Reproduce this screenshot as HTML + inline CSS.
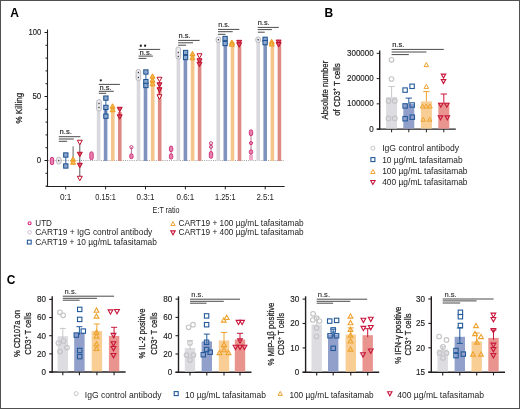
<!DOCTYPE html>
<html><head><meta charset="utf-8"><style>
html,body{margin:0;padding:0;background:#fff;}
#f{position:relative;width:520px;height:409px;box-sizing:border-box;border:1px solid #505050;overflow:hidden;}
svg{position:absolute;left:-1px;top:-1px;will-change:transform;}
text{font-family:"Liberation Sans", sans-serif;}
</style></head><body>
<div id="f"><svg width="520" height="409" viewBox="0 0 520 409">
<text x="10.2" y="16.8" font-size="12" text-anchor="start" fill="#000" font-weight="bold">A</text>
<line x1="47.5" y1="29.5" x2="47.5" y2="187" stroke="#231f20" stroke-width="1.1"/>
<line x1="46.3" y1="186.5" x2="284.6" y2="186.5" stroke="#231f20" stroke-width="1.1"/>
<line x1="45.5" y1="186.1" x2="47.5" y2="186.1" stroke="#231f20" stroke-width="1"/>
<line x1="45.5" y1="173.3" x2="47.5" y2="173.3" stroke="#231f20" stroke-width="1"/>
<line x1="44.5" y1="160.5" x2="47.5" y2="160.5" stroke="#231f20" stroke-width="1"/>
<line x1="45.5" y1="147.7" x2="47.5" y2="147.7" stroke="#231f20" stroke-width="1"/>
<line x1="45.5" y1="134.9" x2="47.5" y2="134.9" stroke="#231f20" stroke-width="1"/>
<line x1="45.5" y1="122.1" x2="47.5" y2="122.1" stroke="#231f20" stroke-width="1"/>
<line x1="45.5" y1="109.3" x2="47.5" y2="109.3" stroke="#231f20" stroke-width="1"/>
<line x1="44.5" y1="96.5" x2="47.5" y2="96.5" stroke="#231f20" stroke-width="1"/>
<line x1="45.5" y1="83.7" x2="47.5" y2="83.7" stroke="#231f20" stroke-width="1"/>
<line x1="45.5" y1="70.89999999999999" x2="47.5" y2="70.89999999999999" stroke="#231f20" stroke-width="1"/>
<line x1="45.5" y1="58.099999999999994" x2="47.5" y2="58.099999999999994" stroke="#231f20" stroke-width="1"/>
<line x1="45.5" y1="45.3" x2="47.5" y2="45.3" stroke="#231f20" stroke-width="1"/>
<line x1="44.5" y1="32.5" x2="47.5" y2="32.5" stroke="#231f20" stroke-width="1"/>
<text x="41.2" y="35.1" font-size="9.2" text-anchor="end" fill="#1c1c1c" font-weight="normal" textLength="12.7" lengthAdjust="spacingAndGlyphs" stroke="#1c1c1c" stroke-width="0.15">100</text>
<text x="41.2" y="99.1" font-size="9.2" text-anchor="end" fill="#1c1c1c" font-weight="normal" textLength="8.8" lengthAdjust="spacingAndGlyphs" stroke="#1c1c1c" stroke-width="0.15">50</text>
<text x="41.2" y="163.1" font-size="9.2" text-anchor="end" fill="#1c1c1c" font-weight="normal" textLength="4.4" lengthAdjust="spacingAndGlyphs" stroke="#1c1c1c" stroke-width="0.15">0</text>
<text x="21.7" y="108.2" font-size="9.4" text-anchor="middle" fill="#1c1c1c" font-weight="normal" textLength="30.8" lengthAdjust="spacingAndGlyphs" transform="rotate(-90 21.7 108.2)" stroke="#1c1c1c" stroke-width="0.25">% Killing</text>
<line x1="48.0" y1="160.5" x2="284" y2="160.5" stroke="#8a8a8a" stroke-width="0.8" stroke-dasharray="1,1.2"/>
<line x1="65.7" y1="186.5" x2="65.7" y2="189.4" stroke="#231f20" stroke-width="1"/>
<text x="65.7" y="199.8" font-size="8.6" text-anchor="middle" fill="#1c1c1c" font-weight="normal" textLength="11.5" lengthAdjust="spacingAndGlyphs">0:1</text>
<line x1="105.6" y1="186.5" x2="105.6" y2="189.4" stroke="#231f20" stroke-width="1"/>
<text x="105.6" y="199.8" font-size="8.6" text-anchor="middle" fill="#1c1c1c" font-weight="normal" textLength="20.5" lengthAdjust="spacingAndGlyphs">0.15:1</text>
<line x1="145.5" y1="186.5" x2="145.5" y2="189.4" stroke="#231f20" stroke-width="1"/>
<text x="145.5" y="199.8" font-size="8.6" text-anchor="middle" fill="#1c1c1c" font-weight="normal" textLength="17.9" lengthAdjust="spacingAndGlyphs">0.3:1</text>
<line x1="185.39999999999998" y1="186.5" x2="185.39999999999998" y2="189.4" stroke="#231f20" stroke-width="1"/>
<text x="185.39999999999998" y="199.8" font-size="8.6" text-anchor="middle" fill="#1c1c1c" font-weight="normal" textLength="17.9" lengthAdjust="spacingAndGlyphs">0.6:1</text>
<line x1="225.3" y1="186.5" x2="225.3" y2="189.4" stroke="#231f20" stroke-width="1"/>
<text x="225.3" y="199.8" font-size="8.6" text-anchor="middle" fill="#1c1c1c" font-weight="normal" textLength="20.5" lengthAdjust="spacingAndGlyphs">1.25:1</text>
<line x1="265.2" y1="186.5" x2="265.2" y2="189.4" stroke="#231f20" stroke-width="1"/>
<text x="265.2" y="199.8" font-size="8.6" text-anchor="middle" fill="#1c1c1c" font-weight="normal" textLength="17.5" lengthAdjust="spacingAndGlyphs">2.5:1</text>
<text x="166.1" y="213" font-size="9.0" text-anchor="middle" fill="#1c1c1c" font-weight="normal" textLength="27" lengthAdjust="spacingAndGlyphs">E:T ratio</text>
<rect x="96.8" y="104.69200000000001" width="3.6" height="56.30799999999999" fill="#d8d8dd"/>
<rect x="103.8" y="106.74000000000001" width="3.6" height="54.25999999999999" fill="#8092be"/>
<rect x="111.0" y="108.02" width="3.6" height="52.980000000000004" fill="#f4c68c"/>
<rect x="118.0" y="111.86" width="3.6" height="49.14" fill="#de8a84"/>
<rect x="136.7" y="74.74" width="3.6" height="86.26" fill="#d8d8dd"/>
<rect x="143.7" y="79.86" width="3.6" height="81.14" fill="#8092be"/>
<rect x="150.89999999999998" y="79.348" width="3.6" height="81.652" fill="#f4c68c"/>
<rect x="157.89999999999998" y="87.53999999999999" width="3.6" height="73.46000000000001" fill="#de8a84"/>
<rect x="176.59999999999997" y="52.980000000000004" width="3.6" height="108.02" fill="#d8d8dd"/>
<rect x="183.59999999999997" y="54.89999999999999" width="3.6" height="106.10000000000001" fill="#8092be"/>
<rect x="190.79999999999995" y="55.53999999999999" width="3.6" height="105.46000000000001" fill="#f4c68c"/>
<rect x="197.79999999999995" y="59.89200000000001" width="3.6" height="101.10799999999999" fill="#de8a84"/>
<rect x="216.5" y="40.17999999999999" width="3.6" height="120.82000000000001" fill="#d8d8dd"/>
<rect x="223.5" y="40.94799999999999" width="3.6" height="120.052" fill="#8092be"/>
<rect x="230.7" y="41.97200000000001" width="3.6" height="119.02799999999999" fill="#f4c68c"/>
<rect x="237.7" y="42.995999999999995" width="3.6" height="118.004" fill="#de8a84"/>
<rect x="256.4" y="40.17999999999999" width="3.6" height="120.82000000000001" fill="#d8d8dd"/>
<rect x="263.4" y="39.156000000000006" width="3.6" height="121.844" fill="#8092be"/>
<rect x="270.59999999999997" y="41.97200000000001" width="3.6" height="119.02799999999999" fill="#f4c68c"/>
<rect x="277.59999999999997" y="41.97200000000001" width="3.6" height="119.02799999999999" fill="#de8a84"/>
<rect x="50.3" y="157.3" width="3.4" height="7.4" rx="1.7" fill="#e880ae" stroke="#cc2a74" stroke-width="0.9"/>
<rect x="89.8" y="151.8" width="3.4" height="7.9" rx="1.7" fill="#e880ae" stroke="#cc2a74" stroke-width="0.9"/>
<line x1="131.4" y1="147.2" x2="131.4" y2="156" stroke="#a05070" stroke-width="0.8"/>
<circle cx="131.4" cy="147.2" r="1.6" stroke="#cc2a74" fill="none" stroke-width="0.9"/>
<rect x="129.70000000000002" y="153.8" width="3.4" height="4.9" rx="1.7" fill="#e880ae" stroke="#cc2a74" stroke-width="0.9"/>
<line x1="171.1" y1="148" x2="171.1" y2="157" stroke="#a05070" stroke-width="0.8"/>
<rect x="169.4" y="146.10000000000002" width="3.4" height="5.599999999999989" rx="1.7" fill="#e880ae" stroke="#cc2a74" stroke-width="0.9"/>
<rect x="169.4" y="153.8" width="3.4" height="5.300000000000006" rx="1.7" fill="#e880ae" stroke="#cc2a74" stroke-width="0.9"/>
<line x1="211" y1="143.3" x2="211" y2="157" stroke="#a05070" stroke-width="0.8"/>
<circle cx="211" cy="143.3" r="1.6" stroke="#cc2a74" fill="none" stroke-width="0.9"/>
<circle cx="211" cy="146.8" r="1.6" stroke="#cc2a74" fill="none" stroke-width="0.9"/>
<rect x="209.3" y="151.5" width="3.4" height="6.800000000000006" rx="1.7" fill="#e880ae" stroke="#cc2a74" stroke-width="0.9"/>
<line x1="251" y1="132" x2="251" y2="157" stroke="#a05070" stroke-width="0.8"/>
<rect x="249.3" y="129.8" width="3.4" height="5.9" rx="1.7" fill="#e880ae" stroke="#cc2a74" stroke-width="0.9"/>
<circle cx="251" cy="143.1" r="1.6" stroke="#cc2a74" fill="#e880ae" stroke-width="0.9"/>
<rect x="249.3" y="149.8" width="3.4" height="4.4" rx="1.7" fill="#e880ae" stroke="#cc2a74" stroke-width="0.9"/>
<rect x="249" y="155" width="4" height="5" fill="#f0a8c8"/>
<rect x="56.5" y="157.20000000000002" width="4.6" height="6.899999999999989" rx="2.2" stroke="#b4b4bc" fill="#ececf0" stroke-width="0.9"/>
<rect x="58.199999999999996" y="159.9" width="1.2" height="1.4" fill="#333"/>
<rect x="96.7" y="99.60000000000001" width="4.6" height="11.499999999999996" rx="2.2" stroke="#b4b4bc" fill="#ececf0" stroke-width="0.9"/>
<rect x="98.4" y="102.8" width="1.2" height="1.4" fill="#333"/>
<rect x="98.4" y="106.8" width="1.2" height="1.4" fill="#333"/>
<rect x="136.1" y="69.4" width="4.6" height="11.2" rx="2.2" stroke="#b4b4bc" fill="#ececf0" stroke-width="0.9"/>
<rect x="137.8" y="71.8" width="1.2" height="1.4" fill="#333"/>
<rect x="137.8" y="76.8" width="1.2" height="1.4" fill="#333"/>
<rect x="176.0" y="46.9" width="4.6" height="12.2" rx="2.2" stroke="#b4b4bc" fill="#ececf0" stroke-width="0.9"/>
<rect x="177.70000000000002" y="51.8" width="1.2" height="1.4" fill="#333"/>
<rect x="177.70000000000002" y="55.8" width="1.2" height="1.4" fill="#333"/>
<rect x="216.1" y="36.9" width="4.6" height="5.7" rx="2.2" stroke="#b4b4bc" fill="#ececf0" stroke-width="0.9"/>
<rect x="217.8" y="39.0" width="1.2" height="1.4" fill="#333"/>
<rect x="255.8" y="36.9" width="4.6" height="5.7" rx="2.2" stroke="#b4b4bc" fill="#ececf0" stroke-width="0.9"/>
<rect x="257.5" y="39.0" width="1.2" height="1.4" fill="#333"/>
<line x1="65.8" y1="155" x2="65.8" y2="166" stroke="#23599b" stroke-width="0.9"/>
<rect x="63.65" y="152.85" width="4.3" height="4.3" stroke="#1d4f8c" fill="#8aa9d2" stroke-width="1.0"/>
<rect x="63.65" y="163.85" width="4.3" height="4.3" stroke="#1d4f8c" fill="#8aa9d2" stroke-width="1.0"/>
<line x1="105.9" y1="98.1" x2="105.9" y2="116.2" stroke="#23599b" stroke-width="0.9"/>
<rect x="103.75" y="95.94999999999999" width="4.3" height="4.3" stroke="#1d4f8c" fill="#8aa9d2" stroke-width="1.0"/>
<rect x="103.75" y="105.25" width="4.3" height="4.3" stroke="#1d4f8c" fill="#8aa9d2" stroke-width="1.0"/>
<rect x="103.75" y="114.05" width="4.3" height="4.3" stroke="#1d4f8c" fill="#8aa9d2" stroke-width="1.0"/>
<line x1="145.9" y1="72" x2="145.9" y2="85.5" stroke="#23599b" stroke-width="0.9"/>
<rect x="143.75" y="69.85" width="4.3" height="4.3" stroke="#1d4f8c" fill="#8aa9d2" stroke-width="1.0"/>
<rect x="143.75" y="79.44999999999999" width="4.3" height="4.3" stroke="#1d4f8c" fill="#8aa9d2" stroke-width="1.0"/>
<rect x="143.75" y="83.35" width="4.3" height="4.3" stroke="#1d4f8c" fill="#8aa9d2" stroke-width="1.0"/>
<line x1="185.6" y1="52.5" x2="185.6" y2="57.5" stroke="#23599b" stroke-width="0.9"/>
<rect x="183.45" y="50.35" width="4.3" height="4.3" stroke="#1d4f8c" fill="#8aa9d2" stroke-width="1.0"/>
<rect x="183.45" y="55.35" width="4.3" height="4.3" stroke="#1d4f8c" fill="#8aa9d2" stroke-width="1.0"/>
<line x1="225.1" y1="38.5" x2="225.1" y2="43.5" stroke="#23599b" stroke-width="0.9"/>
<rect x="222.95" y="36.35" width="4.3" height="4.3" stroke="#1d4f8c" fill="#8aa9d2" stroke-width="1.0"/>
<rect x="222.95" y="41.35" width="4.3" height="4.3" stroke="#1d4f8c" fill="#8aa9d2" stroke-width="1.0"/>
<line x1="265.1" y1="39.3" x2="265.1" y2="42.6" stroke="#23599b" stroke-width="0.9"/>
<rect x="262.95000000000005" y="37.15" width="4.3" height="4.3" stroke="#1d4f8c" fill="#8aa9d2" stroke-width="1.0"/>
<rect x="262.95000000000005" y="40.45" width="4.3" height="4.3" stroke="#1d4f8c" fill="#8aa9d2" stroke-width="1.0"/>
<line x1="73.1" y1="146.3" x2="73.1" y2="163" stroke="#555" stroke-width="0.9"/>
<polygon points="70.6,161.25 75.6,161.25 73.1,156.75" stroke="#ec9a20" fill="#f5b850" stroke-width="1.0" stroke-linejoin="miter"/>
<polygon points="70.6,164.25 75.6,164.25 73.1,159.75" stroke="#ec9a20" fill="#f5b850" stroke-width="1.0" stroke-linejoin="miter"/>
<line x1="112.6" y1="106" x2="112.6" y2="109.5" stroke="#eea22e" stroke-width="0.9"/>
<polygon points="110.1,108.25 115.1,108.25 112.6,103.75" stroke="#ec9a20" fill="#f5b850" stroke-width="1.0" stroke-linejoin="miter"/>
<polygon points="110.1,111.75 115.1,111.75 112.6,107.25" stroke="#ec9a20" fill="#f5b850" stroke-width="1.0" stroke-linejoin="miter"/>
<line x1="152.5" y1="76" x2="152.5" y2="83.5" stroke="#eea22e" stroke-width="0.9"/>
<polygon points="150.0,78.25 155.0,78.25 152.5,73.75" stroke="#ec9a20" fill="#f5b850" stroke-width="1.0" stroke-linejoin="miter"/>
<polygon points="150.0,82.25 155.0,82.25 152.5,77.75" stroke="#ec9a20" fill="#f5b850" stroke-width="1.0" stroke-linejoin="miter"/>
<polygon points="150.0,85.75 155.0,85.75 152.5,81.25" stroke="#ec9a20" fill="#f5b850" stroke-width="1.0" stroke-linejoin="miter"/>
<line x1="192.5" y1="53.5" x2="192.5" y2="57.5" stroke="#eea22e" stroke-width="0.9"/>
<polygon points="190.0,55.75 195.0,55.75 192.5,51.25" stroke="#ec9a20" fill="#f5b850" stroke-width="1.0" stroke-linejoin="miter"/>
<polygon points="190.0,59.75 195.0,59.75 192.5,55.25" stroke="#ec9a20" fill="#f5b850" stroke-width="1.0" stroke-linejoin="miter"/>
<line x1="231.9" y1="42.2" x2="231.9" y2="44" stroke="#eea22e" stroke-width="0.9"/>
<polygon points="229.4,44.45 234.4,44.45 231.9,39.95" stroke="#ec9a20" fill="#f5b850" stroke-width="1.0" stroke-linejoin="miter"/>
<polygon points="229.4,46.25 234.4,46.25 231.9,41.75" stroke="#ec9a20" fill="#f5b850" stroke-width="1.0" stroke-linejoin="miter"/>
<line x1="271.7" y1="41.5" x2="271.7" y2="43.8" stroke="#eea22e" stroke-width="0.9"/>
<polygon points="269.2,43.75 274.2,43.75 271.7,39.25" stroke="#ec9a20" fill="#f5b850" stroke-width="1.0" stroke-linejoin="miter"/>
<polygon points="269.2,46.05 274.2,46.05 271.7,41.55" stroke="#ec9a20" fill="#f5b850" stroke-width="1.0" stroke-linejoin="miter"/>
<line x1="79.8" y1="142" x2="79.8" y2="179" stroke="#444" stroke-width="0.9"/>
<polygon points="77.3,140.25 82.3,140.25 79.8,144.75" stroke="#c0102f" fill="#fff" stroke-width="1.0" stroke-linejoin="miter"/>
<polygon points="77.3,152.25 82.3,152.25 79.8,156.75" stroke="#c0102f" fill="#d44a64" stroke-width="1.0" stroke-linejoin="miter"/>
<polygon points="77.3,163.25 82.3,163.25 79.8,167.75" stroke="#c0102f" fill="#d44a64" stroke-width="1.0" stroke-linejoin="miter"/>
<polygon points="77.3,176.25 82.3,176.25 79.8,180.75" stroke="#c0102f" fill="#fff" stroke-width="1.0" stroke-linejoin="miter"/>
<line x1="119.7" y1="109.5" x2="119.7" y2="117" stroke="#c8163c" stroke-width="0.9"/>
<polygon points="117.2,107.25 122.2,107.25 119.7,111.75" stroke="#c0102f" fill="#d44a64" stroke-width="1.0" stroke-linejoin="miter"/>
<polygon points="117.2,114.75 122.2,114.75 119.7,119.25" stroke="#c0102f" fill="#d44a64" stroke-width="1.0" stroke-linejoin="miter"/>
<line x1="159.5" y1="79.5" x2="159.5" y2="97" stroke="#c8163c" stroke-width="0.9"/>
<polygon points="157.0,77.25 162.0,77.25 159.5,81.75" stroke="#c0102f" fill="#fff" stroke-width="1.0" stroke-linejoin="miter"/>
<polygon points="157.0,82.75 162.0,82.75 159.5,87.25" stroke="#c0102f" fill="#d44a64" stroke-width="1.0" stroke-linejoin="miter"/>
<polygon points="157.0,87.75 162.0,87.75 159.5,92.25" stroke="#c0102f" fill="#d44a64" stroke-width="1.0" stroke-linejoin="miter"/>
<polygon points="157.0,94.75 162.0,94.75 159.5,99.25" stroke="#c0102f" fill="#fff" stroke-width="1.0" stroke-linejoin="miter"/>
<line x1="199.5" y1="56" x2="199.5" y2="64.5" stroke="#c8163c" stroke-width="0.9"/>
<polygon points="197.0,53.75 202.0,53.75 199.5,58.25" stroke="#c0102f" fill="#fff" stroke-width="1.0" stroke-linejoin="miter"/>
<polygon points="197.0,58.75 202.0,58.75 199.5,63.25" stroke="#c0102f" fill="#d44a64" stroke-width="1.0" stroke-linejoin="miter"/>
<polygon points="197.0,62.25 202.0,62.25 199.5,66.75" stroke="#c0102f" fill="#d44a64" stroke-width="1.0" stroke-linejoin="miter"/>
<line x1="239.2" y1="42.6" x2="239.2" y2="45" stroke="#c8163c" stroke-width="0.9"/>
<polygon points="236.7,40.35 241.7,40.35 239.2,44.85" stroke="#c0102f" fill="#d44a64" stroke-width="1.0" stroke-linejoin="miter"/>
<polygon points="236.7,42.75 241.7,42.75 239.2,47.25" stroke="#c0102f" fill="#d44a64" stroke-width="1.0" stroke-linejoin="miter"/>
<line x1="278.6" y1="42.3" x2="278.6" y2="44.8" stroke="#c8163c" stroke-width="0.9"/>
<polygon points="276.1,40.05 281.1,40.05 278.6,44.55" stroke="#c0102f" fill="#d44a64" stroke-width="1.0" stroke-linejoin="miter"/>
<polygon points="276.1,42.55 281.1,42.55 278.6,47.05" stroke="#c0102f" fill="#d44a64" stroke-width="1.0" stroke-linejoin="miter"/>
<text x="59.6" y="133.9" font-size="8.0" text-anchor="start" fill="#222" font-weight="normal" textLength="12.3" lengthAdjust="spacingAndGlyphs" stroke="#222" stroke-width="0.15">n.s.</text>
<line x1="58.8" y1="136.7" x2="80.4" y2="136.7" stroke="#4a4a4a" stroke-width="1.0"/>
<line x1="58.8" y1="139" x2="73.8" y2="139" stroke="#4a4a4a" stroke-width="1.0"/>
<line x1="58.8" y1="141.3" x2="67.1" y2="141.3" stroke="#4a4a4a" stroke-width="1.0"/>
<circle cx="100.8" cy="80.3" r="1.15" fill="#222"/>
<line x1="98.8" y1="84.4" x2="119.9" y2="84.4" stroke="#4a4a4a" stroke-width="1.0"/>
<text x="99.6" y="89.8" font-size="8.0" text-anchor="start" fill="#222" font-weight="normal" textLength="12.1" lengthAdjust="spacingAndGlyphs" stroke="#222" stroke-width="0.15">n.s.</text>
<line x1="98.8" y1="91.3" x2="113.8" y2="91.3" stroke="#4a4a4a" stroke-width="1.0"/>
<line x1="98.8" y1="93.3" x2="106.2" y2="93.3" stroke="#4a4a4a" stroke-width="1.0"/>
<circle cx="140.8" cy="45.75" r="1.15" fill="#222"/>
<circle cx="145.1" cy="45.75" r="1.15" fill="#222"/>
<line x1="138.6" y1="49.4" x2="160.2" y2="49.4" stroke="#4a4a4a" stroke-width="1.0"/>
<text x="139.6" y="54.7" font-size="8.0" text-anchor="start" fill="#222" font-weight="normal" textLength="12.3" lengthAdjust="spacingAndGlyphs" stroke="#222" stroke-width="0.15">n.s.</text>
<line x1="138.6" y1="56.1" x2="152.9" y2="56.1" stroke="#4a4a4a" stroke-width="1.0"/>
<line x1="138.6" y1="58.4" x2="146.4" y2="58.4" stroke="#4a4a4a" stroke-width="1.0"/>
<text x="178.6" y="38.3" font-size="8.0" text-anchor="start" fill="#222" font-weight="normal" textLength="12.1" lengthAdjust="spacingAndGlyphs" stroke="#222" stroke-width="0.15">n.s.</text>
<line x1="178.2" y1="40.4" x2="199.6" y2="40.4" stroke="#4a4a4a" stroke-width="1.0"/>
<line x1="178.2" y1="42.8" x2="193" y2="42.8" stroke="#4a4a4a" stroke-width="1.0"/>
<line x1="178.2" y1="45.2" x2="186" y2="45.2" stroke="#4a4a4a" stroke-width="1.0"/>
<text x="218.3" y="27.2" font-size="8.0" text-anchor="start" fill="#222" font-weight="normal" textLength="11.3" lengthAdjust="spacingAndGlyphs" stroke="#222" stroke-width="0.15">n.s.</text>
<line x1="218" y1="29.4" x2="239.3" y2="29.4" stroke="#4a4a4a" stroke-width="1.0"/>
<line x1="218" y1="31.7" x2="232.7" y2="31.7" stroke="#4a4a4a" stroke-width="1.0"/>
<line x1="218" y1="34.3" x2="225.5" y2="34.3" stroke="#4a4a4a" stroke-width="1.0"/>
<text x="257.8" y="25.2" font-size="8.0" text-anchor="start" fill="#222" font-weight="normal" textLength="11.8" lengthAdjust="spacingAndGlyphs" stroke="#222" stroke-width="0.15">n.s.</text>
<line x1="257.8" y1="27.4" x2="278.8" y2="27.4" stroke="#4a4a4a" stroke-width="1.0"/>
<line x1="257.8" y1="29.6" x2="271.9" y2="29.6" stroke="#4a4a4a" stroke-width="1.0"/>
<line x1="257.8" y1="32.2" x2="264.7" y2="32.2" stroke="#4a4a4a" stroke-width="1.0"/>
<circle cx="29.6" cy="223.2" r="1.5" stroke="#d4237a" fill="none" stroke-width="1.1"/>
<text x="35.3" y="225.6" font-size="8.6" text-anchor="start" fill="#1e1e1e" font-weight="normal" textLength="16.6" lengthAdjust="spacingAndGlyphs">UTD</text>
<circle cx="29.6" cy="232.3" r="1.8" stroke="#c9b9cc" fill="none" stroke-width="0.9"/>
<text x="35.3" y="234.7" font-size="8.6" text-anchor="start" fill="#1e1e1e" font-weight="normal" textLength="117.0" lengthAdjust="spacingAndGlyphs">CART19 + IgG control antibody</text>
<rect x="27.400000000000002" y="240.2" width="3.8" height="3.8" stroke="#23599b" fill="none" stroke-width="1.1"/>
<text x="35.3" y="244.6" font-size="8.6" text-anchor="start" fill="#1e1e1e" font-weight="normal" textLength="121.6" lengthAdjust="spacingAndGlyphs">CART19 + 10 µg/mL tafasitamab</text>
<polygon points="170.8,225.57999999999998 175.2,225.57999999999998 173,221.62" stroke="#eea22e" fill="none" stroke-width="1.0" stroke-linejoin="miter"/>
<text x="178.5" y="225.6" font-size="8.6" text-anchor="start" fill="#1e1e1e" font-weight="normal" textLength="125.2" lengthAdjust="spacingAndGlyphs">CART19 + 100 µg/mL tafasitamab</text>
<polygon points="170.8,230.92000000000002 175.2,230.92000000000002 173,234.88" stroke="#c8163c" fill="none" stroke-width="1.1" stroke-linejoin="miter"/>
<text x="178.5" y="234.6" font-size="8.6" text-anchor="start" fill="#1e1e1e" font-weight="normal" textLength="125.2" lengthAdjust="spacingAndGlyphs">CART19 + 400 µg/mL tafasitamab</text>
<text x="324.6" y="16.7" font-size="12" text-anchor="start" fill="#000" font-weight="bold">B</text>
<line x1="379.7" y1="50.4" x2="379.7" y2="129.8" stroke="#231f20" stroke-width="1.4"/>
<line x1="376.8" y1="129.1" x2="455.8" y2="129.1" stroke="#231f20" stroke-width="1.4"/>
<line x1="376.7" y1="53.349999999999994" x2="379.7" y2="53.349999999999994" stroke="#231f20" stroke-width="1"/>
<text x="373.7" y="55.949999999999996" font-size="8.5" text-anchor="end" fill="#1c1c1c" font-weight="normal" textLength="26.700000000000003" lengthAdjust="spacingAndGlyphs" stroke="#1c1c1c" stroke-width="0.15">300000</text>
<line x1="376.7" y1="78.6" x2="379.7" y2="78.6" stroke="#231f20" stroke-width="1"/>
<text x="373.7" y="81.19999999999999" font-size="8.5" text-anchor="end" fill="#1c1c1c" font-weight="normal" textLength="26.700000000000003" lengthAdjust="spacingAndGlyphs" stroke="#1c1c1c" stroke-width="0.15">200000</text>
<line x1="376.7" y1="103.85" x2="379.7" y2="103.85" stroke="#231f20" stroke-width="1"/>
<text x="373.7" y="106.44999999999999" font-size="8.5" text-anchor="end" fill="#1c1c1c" font-weight="normal" textLength="26.700000000000003" lengthAdjust="spacingAndGlyphs" stroke="#1c1c1c" stroke-width="0.15">100000</text>
<line x1="376.7" y1="129.1" x2="379.7" y2="129.1" stroke="#231f20" stroke-width="1"/>
<text x="373.7" y="131.7" font-size="8.5" text-anchor="end" fill="#1c1c1c" font-weight="normal" textLength="4.45" lengthAdjust="spacingAndGlyphs" stroke="#1c1c1c" stroke-width="0.15">0</text>
<text x="328.5" y="90.1" font-size="9.3" text-anchor="middle" fill="#1c1c1c" font-weight="normal" textLength="58.7" lengthAdjust="spacingAndGlyphs" transform="rotate(-90 328.5 90.1)" stroke="#1c1c1c" stroke-width="0.25">Absolute number</text>
<text x="339.5" y="89.5" font-size="9.3" text-anchor="middle" fill="#1c1c1c" font-weight="normal" textLength="52.6" lengthAdjust="spacingAndGlyphs" transform="rotate(-90 339.5 89.5)" stroke="#1c1c1c" stroke-width="0.25">of CD3<tspan font-size="6" dy="-3.4">+</tspan><tspan dy="3.4"> T cells</tspan></text>
<rect x="386.1" y="97.0" width="11" height="31.599999999999994" fill="#dcdce1"/>
<line x1="391.6" y1="86.5" x2="391.6" y2="97.0" stroke="#c8c8ca" stroke-width="1"/>
<line x1="388.40000000000003" y1="86.5" x2="394.8" y2="86.5" stroke="#c8c8ca" stroke-width="1"/>
<rect x="403.3" y="104.0" width="11" height="24.599999999999994" fill="#90a0ca"/>
<line x1="408.8" y1="98.1" x2="408.8" y2="104.0" stroke="#23599b" stroke-width="1"/>
<line x1="405.6" y1="98.1" x2="412.0" y2="98.1" stroke="#23599b" stroke-width="1"/>
<rect x="420.9" y="101.4" width="11" height="27.19999999999999" fill="#f8ce94"/>
<line x1="426.4" y1="91.6" x2="426.4" y2="101.4" stroke="#eea22e" stroke-width="1"/>
<line x1="423.2" y1="91.6" x2="429.59999999999997" y2="91.6" stroke="#eea22e" stroke-width="1"/>
<rect x="438.3" y="102.7" width="11" height="25.89999999999999" fill="#e9948e"/>
<line x1="443.8" y1="94.0" x2="443.8" y2="102.7" stroke="#c8163c" stroke-width="1"/>
<line x1="440.6" y1="94.0" x2="447.0" y2="94.0" stroke="#c8163c" stroke-width="1"/>
<line x1="391.6" y1="129.1" x2="391.6" y2="132.3" stroke="#231f20" stroke-width="1"/>
<line x1="408.8" y1="129.1" x2="408.8" y2="132.3" stroke="#231f20" stroke-width="1"/>
<line x1="426.4" y1="129.1" x2="426.4" y2="132.3" stroke="#231f20" stroke-width="1"/>
<line x1="443.8" y1="129.1" x2="443.8" y2="132.3" stroke="#231f20" stroke-width="1"/>
<circle cx="391.5" cy="59.8" r="2.3" stroke="#c4c4c6" fill="none" stroke-width="1.1"/>
<circle cx="391.5" cy="79" r="2.3" stroke="#c4c4c6" fill="none" stroke-width="1.1"/>
<circle cx="388.5" cy="100.9" r="2.3" stroke="#c4c4c6" fill="none" stroke-width="1.1"/>
<circle cx="394.8" cy="100.9" r="2.3" stroke="#c4c4c6" fill="none" stroke-width="1.1"/>
<circle cx="388.5" cy="118.4" r="2.3" stroke="#c4c4c6" fill="none" stroke-width="1.1"/>
<circle cx="394.8" cy="118.4" r="2.3" stroke="#c4c4c6" fill="none" stroke-width="1.1"/>
<rect x="402.90000000000003" y="87.89999999999999" width="4.4" height="4.4" stroke="#23599b" fill="none" stroke-width="1.1"/>
<rect x="409.90000000000003" y="84.1" width="4.4" height="4.4" stroke="#23599b" fill="none" stroke-width="1.1"/>
<rect x="402.90000000000003" y="103.7" width="4.4" height="4.4" stroke="#23599b" fill="none" stroke-width="1.1"/>
<rect x="410.0" y="102.8" width="4.4" height="4.4" stroke="#23599b" fill="none" stroke-width="1.1"/>
<rect x="402.90000000000003" y="116.5" width="4.4" height="4.4" stroke="#23599b" fill="none" stroke-width="1.1"/>
<rect x="410.1" y="115.0" width="4.4" height="4.4" stroke="#23599b" fill="none" stroke-width="1.1"/>
<polygon points="424.05,66.625 428.55,66.625 426.3,62.574999999999996" stroke="#eea22e" fill="none" stroke-width="1.0" stroke-linejoin="miter"/>
<polygon points="424.05,88.42500000000001 428.55,88.42500000000001 426.3,84.375" stroke="#eea22e" fill="none" stroke-width="1.0" stroke-linejoin="miter"/>
<polygon points="420.25,108.025 424.75,108.025 422.5,103.975" stroke="#eea22e" fill="none" stroke-width="1.0" stroke-linejoin="miter"/>
<polygon points="424.05,108.025 428.55,108.025 426.3,103.975" stroke="#eea22e" fill="none" stroke-width="1.0" stroke-linejoin="miter"/>
<polygon points="427.75,108.025 432.25,108.025 430,103.975" stroke="#eea22e" fill="none" stroke-width="1.0" stroke-linejoin="miter"/>
<polygon points="420.95,121.22500000000001 425.45,121.22500000000001 423.2,117.175" stroke="#eea22e" fill="none" stroke-width="1.0" stroke-linejoin="miter"/>
<polygon points="427.45,121.22500000000001 431.95,121.22500000000001 429.7,117.175" stroke="#eea22e" fill="none" stroke-width="1.0" stroke-linejoin="miter"/>
<polygon points="441.25,74.07499999999999 445.75,74.07499999999999 443.5,78.125" stroke="#c8163c" fill="none" stroke-width="1.1" stroke-linejoin="miter"/>
<polygon points="441.25,79.57499999999999 445.75,79.57499999999999 443.5,83.625" stroke="#c8163c" fill="none" stroke-width="1.1" stroke-linejoin="miter"/>
<polygon points="438.55,103.175 443.05,103.175 440.8,107.22500000000001" stroke="#c8163c" fill="none" stroke-width="1.1" stroke-linejoin="miter"/>
<polygon points="444.55,103.175 449.05,103.175 446.8,107.22500000000001" stroke="#c8163c" fill="none" stroke-width="1.1" stroke-linejoin="miter"/>
<polygon points="438.25,115.875 442.75,115.875 440.5,119.92500000000001" stroke="#c8163c" fill="none" stroke-width="1.1" stroke-linejoin="miter"/>
<polygon points="445.05,115.875 449.55,115.875 447.3,119.92500000000001" stroke="#c8163c" fill="none" stroke-width="1.1" stroke-linejoin="miter"/>
<text x="392.2" y="47.3" font-size="7.9" text-anchor="start" fill="#222" font-weight="normal" textLength="12.1" lengthAdjust="spacingAndGlyphs" stroke="#222" stroke-width="0.15">n.s.</text>
<line x1="391.6" y1="49.4" x2="443.8" y2="49.4" stroke="#4a4a4a" stroke-width="1.0"/>
<line x1="391.6" y1="52.0" x2="426.4" y2="52.0" stroke="#4a4a4a" stroke-width="1.0"/>
<line x1="391.6" y1="54.6" x2="408.8" y2="54.6" stroke="#4a4a4a" stroke-width="1.0"/>
<circle cx="372.9" cy="148.2" r="2.0" stroke="#c4c4c6" fill="none" stroke-width="1.0"/>
<text x="382.2" y="151.0" font-size="8.6" text-anchor="start" fill="#1e1e1e" font-weight="normal" textLength="76.8" lengthAdjust="spacingAndGlyphs">IgG control antibody</text>
<rect x="370.9" y="157.6" width="4.0" height="4.0" stroke="#23599b" fill="none" stroke-width="1.1"/>
<text x="382.2" y="162.6" font-size="8.6" text-anchor="start" fill="#1e1e1e" font-weight="normal" textLength="80.4" lengthAdjust="spacingAndGlyphs">10 µg/mL tafasitamab</text>
<polygon points="370.7,173.48 375.09999999999997,173.48 372.9,169.52" stroke="#eea22e" fill="none" stroke-width="1.0" stroke-linejoin="miter"/>
<text x="382.2" y="174.2" font-size="8.6" text-anchor="start" fill="#1e1e1e" font-weight="normal" textLength="85.3" lengthAdjust="spacingAndGlyphs">100 µg/mL tafasitamab</text>
<polygon points="370.7,180.52 375.09999999999997,180.52 372.9,184.48" stroke="#c8163c" fill="none" stroke-width="1.1" stroke-linejoin="miter"/>
<text x="382.2" y="185.3" font-size="8.6" text-anchor="start" fill="#1e1e1e" font-weight="normal" textLength="85.3" lengthAdjust="spacingAndGlyphs">400 µg/mL tafasitamab</text>
<text x="6.8" y="283.8" font-size="12" text-anchor="start" fill="#000" font-weight="bold">C</text>
<line x1="52.2" y1="296.3" x2="52.2" y2="372.7" stroke="#231f20" stroke-width="1.4"/>
<line x1="49.2" y1="372.0" x2="125.6" y2="372.0" stroke="#231f20" stroke-width="1.4"/>
<line x1="49.2" y1="372.0" x2="52.2" y2="372.0" stroke="#231f20" stroke-width="1.1"/>
<text x="45.900000000000006" y="374.8" font-size="8.6" text-anchor="end" fill="#1c1c1c" font-weight="normal" textLength="4.5" lengthAdjust="spacingAndGlyphs" stroke="#1c1c1c" stroke-width="0.15">0</text>
<line x1="49.2" y1="353.85" x2="52.2" y2="353.85" stroke="#231f20" stroke-width="1.1"/>
<text x="45.900000000000006" y="356.65000000000003" font-size="8.6" text-anchor="end" fill="#1c1c1c" font-weight="normal" textLength="9.0" lengthAdjust="spacingAndGlyphs" stroke="#1c1c1c" stroke-width="0.15">20</text>
<line x1="49.2" y1="335.7" x2="52.2" y2="335.7" stroke="#231f20" stroke-width="1.1"/>
<text x="45.900000000000006" y="338.5" font-size="8.6" text-anchor="end" fill="#1c1c1c" font-weight="normal" textLength="9.0" lengthAdjust="spacingAndGlyphs" stroke="#1c1c1c" stroke-width="0.15">40</text>
<line x1="49.2" y1="317.55" x2="52.2" y2="317.55" stroke="#231f20" stroke-width="1.1"/>
<text x="45.900000000000006" y="320.35" font-size="8.6" text-anchor="end" fill="#1c1c1c" font-weight="normal" textLength="9.0" lengthAdjust="spacingAndGlyphs" stroke="#1c1c1c" stroke-width="0.15">60</text>
<line x1="49.2" y1="299.4" x2="52.2" y2="299.4" stroke="#231f20" stroke-width="1.1"/>
<text x="45.900000000000006" y="302.2" font-size="8.6" text-anchor="end" fill="#1c1c1c" font-weight="normal" textLength="9.0" lengthAdjust="spacingAndGlyphs" stroke="#1c1c1c" stroke-width="0.15">80</text>
<rect x="57.599999999999994" y="336.2" width="10.4" height="35.10000000000002" fill="#dcdce1"/>
<line x1="62.8" y1="328.4" x2="62.8" y2="338.2" stroke="#c8c8ca" stroke-width="1"/>
<line x1="59.8" y1="328.4" x2="65.8" y2="328.4" stroke="#c8c8ca" stroke-width="1"/>
<rect x="74.2" y="332.8" width="10.4" height="38.5" fill="#90a0ca"/>
<line x1="79.4" y1="326.7" x2="79.4" y2="334.8" stroke="#23599b" stroke-width="1"/>
<line x1="76.4" y1="326.7" x2="82.4" y2="326.7" stroke="#23599b" stroke-width="1"/>
<rect x="91.7" y="331" width="10.4" height="40.30000000000001" fill="#f8ce94"/>
<line x1="96.9" y1="324" x2="96.9" y2="333" stroke="#eea22e" stroke-width="1"/>
<line x1="93.9" y1="324" x2="99.9" y2="324" stroke="#eea22e" stroke-width="1"/>
<rect x="108.89999999999999" y="336" width="10.4" height="35.30000000000001" fill="#e9948e"/>
<line x1="114.1" y1="327.3" x2="114.1" y2="338" stroke="#c8163c" stroke-width="1"/>
<line x1="111.1" y1="327.3" x2="117.1" y2="327.3" stroke="#c8163c" stroke-width="1"/>
<line x1="62.8" y1="372.0" x2="62.8" y2="375.2" stroke="#231f20" stroke-width="1.1"/>
<line x1="79.4" y1="372.0" x2="79.4" y2="375.2" stroke="#231f20" stroke-width="1.1"/>
<line x1="96.9" y1="372.0" x2="96.9" y2="375.2" stroke="#231f20" stroke-width="1.1"/>
<line x1="114.1" y1="372.0" x2="114.1" y2="375.2" stroke="#231f20" stroke-width="1.1"/>
<circle cx="59.9" cy="312.3" r="2.3" stroke="#c4c4c6" fill="none" stroke-width="1.1"/>
<circle cx="63.1" cy="315.3" r="2.3" stroke="#c4c4c6" fill="none" stroke-width="1.1"/>
<circle cx="58.4" cy="343" r="2.3" stroke="#c4c4c6" fill="none" stroke-width="1.1"/>
<circle cx="63.5" cy="341" r="2.3" stroke="#c4c4c6" fill="none" stroke-width="1.1"/>
<circle cx="67" cy="347.5" r="2.3" stroke="#c4c4c6" fill="none" stroke-width="1.1"/>
<circle cx="60" cy="351.6" r="2.3" stroke="#c4c4c6" fill="none" stroke-width="1.1"/>
<rect x="77.5" y="307.2" width="4.4" height="4.4" stroke="#23599b" fill="none" stroke-width="1.1"/>
<rect x="77.5" y="317.2" width="4.4" height="4.4" stroke="#23599b" fill="none" stroke-width="1.1"/>
<rect x="81.1" y="328.90000000000003" width="4.4" height="4.4" stroke="#23599b" fill="none" stroke-width="1.1"/>
<rect x="74.1" y="332.90000000000003" width="4.4" height="4.4" stroke="#23599b" fill="none" stroke-width="1.1"/>
<rect x="77.5" y="348.3" width="4.4" height="4.4" stroke="#23599b" fill="none" stroke-width="1.1"/>
<rect x="77.5" y="354.40000000000003" width="4.4" height="4.4" stroke="#23599b" fill="none" stroke-width="1.1"/>
<polygon points="94.1,312.26000000000005 98.9,312.26000000000005 96.5,307.94" stroke="#eea22e" fill="none" stroke-width="1.1" stroke-linejoin="miter"/>
<polygon points="94.1,318.16 98.9,318.16 96.5,313.84" stroke="#eea22e" fill="none" stroke-width="1.1" stroke-linejoin="miter"/>
<polygon points="94.1,334.26000000000005 98.9,334.26000000000005 96.5,329.94" stroke="#eea22e" fill="none" stroke-width="1.1" stroke-linejoin="miter"/>
<polygon points="94.1,338.16 98.9,338.16 96.5,333.84" stroke="#eea22e" fill="none" stroke-width="1.1" stroke-linejoin="miter"/>
<polygon points="94.1,346.06 98.9,346.06 96.5,341.73999999999995" stroke="#eea22e" fill="none" stroke-width="1.1" stroke-linejoin="miter"/>
<polygon points="94.1,350.46000000000004 98.9,350.46000000000004 96.5,346.14" stroke="#eea22e" fill="none" stroke-width="1.1" stroke-linejoin="miter"/>
<polygon points="108.1,309.84 112.9,309.84 110.5,314.16" stroke="#c8163c" fill="none" stroke-width="1.1" stroke-linejoin="miter"/>
<polygon points="114.6,309.44 119.4,309.44 117,313.76000000000005" stroke="#c8163c" fill="none" stroke-width="1.1" stroke-linejoin="miter"/>
<polygon points="111.1,333.34 115.9,333.34 113.5,337.66" stroke="#c8163c" fill="none" stroke-width="1.1" stroke-linejoin="miter"/>
<polygon points="111.1,341.73999999999995 115.9,341.73999999999995 113.5,346.06" stroke="#c8163c" fill="none" stroke-width="1.1" stroke-linejoin="miter"/>
<polygon points="111.1,346.53999999999996 115.9,346.53999999999996 113.5,350.86" stroke="#c8163c" fill="none" stroke-width="1.1" stroke-linejoin="miter"/>
<polygon points="111.1,353.44 115.9,353.44 113.5,357.76000000000005" stroke="#c8163c" fill="none" stroke-width="1.1" stroke-linejoin="miter"/>
<text x="20.2" y="333.6" font-size="9.3" text-anchor="middle" fill="#1c1c1c" font-weight="normal" textLength="47" lengthAdjust="spacingAndGlyphs" transform="rotate(-90 20.2 333.6)" stroke="#1c1c1c" stroke-width="0.25">% CD107a on</text>
<text x="31.4" y="333.6" font-size="9.3" text-anchor="middle" fill="#1c1c1c" font-weight="normal" textLength="42.2" lengthAdjust="spacingAndGlyphs" transform="rotate(-90 31.4 333.6)" stroke="#1c1c1c" stroke-width="0.25">CD3<tspan font-size="6" dy="-3.4">+</tspan><tspan dy="3.4"> T cells</tspan></text>
<text x="64.6" y="293.8" font-size="7.8" text-anchor="start" fill="#2a2a2a" font-weight="normal" textLength="12.2" lengthAdjust="spacingAndGlyphs" stroke="#2a2a2a" stroke-width="0.12">n.s.</text>
<line x1="62.8" y1="296.2" x2="114.1" y2="296.2" stroke="#4a4a4a" stroke-width="1.0"/>
<line x1="62.8" y1="298.3" x2="96.9" y2="298.3" stroke="#4a4a4a" stroke-width="1.0"/>
<line x1="62.8" y1="300.2" x2="79.6" y2="300.2" stroke="#4a4a4a" stroke-width="1.0"/>
<line x1="178.5" y1="296.3" x2="178.5" y2="373.0" stroke="#231f20" stroke-width="1.4"/>
<line x1="175.5" y1="372.3" x2="251.5" y2="372.3" stroke="#231f20" stroke-width="1.4"/>
<line x1="175.5" y1="372.3" x2="178.5" y2="372.3" stroke="#231f20" stroke-width="1.1"/>
<text x="172.2" y="375.1" font-size="8.6" text-anchor="end" fill="#1c1c1c" font-weight="normal" textLength="4.5" lengthAdjust="spacingAndGlyphs" stroke="#1c1c1c" stroke-width="0.15">0</text>
<line x1="175.5" y1="354.0" x2="178.5" y2="354.0" stroke="#231f20" stroke-width="1.1"/>
<text x="172.2" y="356.8" font-size="8.6" text-anchor="end" fill="#1c1c1c" font-weight="normal" textLength="9.0" lengthAdjust="spacingAndGlyphs" stroke="#1c1c1c" stroke-width="0.15">20</text>
<line x1="175.5" y1="335.7" x2="178.5" y2="335.7" stroke="#231f20" stroke-width="1.1"/>
<text x="172.2" y="338.5" font-size="8.6" text-anchor="end" fill="#1c1c1c" font-weight="normal" textLength="9.0" lengthAdjust="spacingAndGlyphs" stroke="#1c1c1c" stroke-width="0.15">40</text>
<line x1="175.5" y1="317.40000000000003" x2="178.5" y2="317.40000000000003" stroke="#231f20" stroke-width="1.1"/>
<text x="172.2" y="320.20000000000005" font-size="8.6" text-anchor="end" fill="#1c1c1c" font-weight="normal" textLength="9.0" lengthAdjust="spacingAndGlyphs" stroke="#1c1c1c" stroke-width="0.15">60</text>
<line x1="175.5" y1="299.1" x2="178.5" y2="299.1" stroke="#231f20" stroke-width="1.1"/>
<text x="172.2" y="301.90000000000003" font-size="8.6" text-anchor="end" fill="#1c1c1c" font-weight="normal" textLength="9.0" lengthAdjust="spacingAndGlyphs" stroke="#1c1c1c" stroke-width="0.15">80</text>
<rect x="184.8" y="348" width="10.4" height="23.600000000000023" fill="#dcdce1"/>
<line x1="190" y1="340.5" x2="190" y2="350" stroke="#c8c8ca" stroke-width="1"/>
<line x1="187" y1="340.5" x2="193" y2="340.5" stroke="#c8c8ca" stroke-width="1"/>
<rect x="201.60000000000002" y="341.4" width="10.4" height="30.200000000000045" fill="#90a0ca"/>
<line x1="206.8" y1="334.1" x2="206.8" y2="343.4" stroke="#23599b" stroke-width="1"/>
<line x1="203.8" y1="334.1" x2="209.8" y2="334.1" stroke="#23599b" stroke-width="1"/>
<rect x="218.8" y="340.5" width="10.4" height="31.100000000000023" fill="#f8ce94"/>
<line x1="224" y1="332.5" x2="224" y2="342.5" stroke="#eea22e" stroke-width="1"/>
<line x1="221" y1="332.5" x2="227" y2="332.5" stroke="#eea22e" stroke-width="1"/>
<rect x="234.8" y="339.5" width="10.4" height="32.10000000000002" fill="#e9948e"/>
<line x1="240" y1="333.3" x2="240" y2="341.5" stroke="#c8163c" stroke-width="1"/>
<line x1="237" y1="333.3" x2="243" y2="333.3" stroke="#c8163c" stroke-width="1"/>
<line x1="190" y1="372.3" x2="190" y2="375.5" stroke="#231f20" stroke-width="1.1"/>
<line x1="206.8" y1="372.3" x2="206.8" y2="375.5" stroke="#231f20" stroke-width="1.1"/>
<line x1="224" y1="372.3" x2="224" y2="375.5" stroke="#231f20" stroke-width="1.1"/>
<line x1="240" y1="372.3" x2="240" y2="375.5" stroke="#231f20" stroke-width="1.1"/>
<circle cx="188.6" cy="327.3" r="2.3" stroke="#c4c4c6" fill="none" stroke-width="1.1"/>
<circle cx="193" cy="324.7" r="2.3" stroke="#c4c4c6" fill="none" stroke-width="1.1"/>
<circle cx="190" cy="343" r="2.3" stroke="#c4c4c6" fill="none" stroke-width="1.1"/>
<circle cx="186.5" cy="355" r="2.3" stroke="#c4c4c6" fill="none" stroke-width="1.1"/>
<circle cx="193.5" cy="355" r="2.3" stroke="#c4c4c6" fill="none" stroke-width="1.1"/>
<circle cx="190" cy="360" r="2.3" stroke="#c4c4c6" fill="none" stroke-width="1.1"/>
<rect x="204.4" y="313.7" width="4.4" height="4.4" stroke="#23599b" fill="none" stroke-width="1.1"/>
<rect x="204.4" y="322.5" width="4.4" height="4.4" stroke="#23599b" fill="none" stroke-width="1.1"/>
<rect x="204.4" y="340.1" width="4.4" height="4.4" stroke="#23599b" fill="none" stroke-width="1.1"/>
<rect x="201.10000000000002" y="352.5" width="4.4" height="4.4" stroke="#23599b" fill="none" stroke-width="1.1"/>
<rect x="208.0" y="350.0" width="4.4" height="4.4" stroke="#23599b" fill="none" stroke-width="1.1"/>
<rect x="204.4" y="347.3" width="4.4" height="4.4" stroke="#23599b" fill="none" stroke-width="1.1"/>
<polygon points="221.4,322.16 226.20000000000002,322.16 223.8,317.84" stroke="#eea22e" fill="none" stroke-width="1.1" stroke-linejoin="miter"/>
<polygon points="224.29999999999998,319.46000000000004 229.1,319.46000000000004 226.7,315.14" stroke="#eea22e" fill="none" stroke-width="1.1" stroke-linejoin="miter"/>
<polygon points="221.6,346.66 226.4,346.66 224,342.34" stroke="#eea22e" fill="none" stroke-width="1.1" stroke-linejoin="miter"/>
<polygon points="221.6,351.76000000000005 226.4,351.76000000000005 224,347.44" stroke="#eea22e" fill="none" stroke-width="1.1" stroke-linejoin="miter"/>
<polygon points="217.1,354.66 221.9,354.66 219.5,350.34" stroke="#eea22e" fill="none" stroke-width="1.1" stroke-linejoin="miter"/>
<polygon points="226.1,354.66 230.9,354.66 228.5,350.34" stroke="#eea22e" fill="none" stroke-width="1.1" stroke-linejoin="miter"/>
<polygon points="236.1,320.34 240.9,320.34 238.5,324.66" stroke="#c8163c" fill="none" stroke-width="1.1" stroke-linejoin="miter"/>
<polygon points="239.7,320.34 244.5,320.34 242.1,324.66" stroke="#c8163c" fill="none" stroke-width="1.1" stroke-linejoin="miter"/>
<polygon points="237.6,338.84 242.4,338.84 240,343.16" stroke="#c8163c" fill="none" stroke-width="1.1" stroke-linejoin="miter"/>
<polygon points="233.1,345.23999999999995 237.9,345.23999999999995 235.5,349.56" stroke="#c8163c" fill="none" stroke-width="1.1" stroke-linejoin="miter"/>
<polygon points="237.6,345.23999999999995 242.4,345.23999999999995 240,349.56" stroke="#c8163c" fill="none" stroke-width="1.1" stroke-linejoin="miter"/>
<polygon points="242.1,345.23999999999995 246.9,345.23999999999995 244.5,349.56" stroke="#c8163c" fill="none" stroke-width="1.1" stroke-linejoin="miter"/>
<text x="145.3" y="333.6" font-size="9.3" text-anchor="middle" fill="#1c1c1c" font-weight="normal" textLength="50" lengthAdjust="spacingAndGlyphs" transform="rotate(-90 145.3 333.6)" stroke="#1c1c1c" stroke-width="0.25">% IL-2 positive</text>
<text x="157.0" y="333.6" font-size="9.3" text-anchor="middle" fill="#1c1c1c" font-weight="normal" textLength="42.2" lengthAdjust="spacingAndGlyphs" transform="rotate(-90 157.0 333.6)" stroke="#1c1c1c" stroke-width="0.25">CD3<tspan font-size="6" dy="-3.4">+</tspan><tspan dy="3.4"> T cells</tspan></text>
<text x="191.3" y="296.8" font-size="7.8" text-anchor="start" fill="#2a2a2a" font-weight="normal" textLength="12.2" lengthAdjust="spacingAndGlyphs" stroke="#2a2a2a" stroke-width="0.12">n.s.</text>
<line x1="190" y1="299.2" x2="240" y2="299.2" stroke="#4a4a4a" stroke-width="1.0"/>
<line x1="190" y1="301.3" x2="223.8" y2="301.3" stroke="#4a4a4a" stroke-width="1.0"/>
<line x1="190" y1="303.2" x2="206.5" y2="303.2" stroke="#4a4a4a" stroke-width="1.0"/>
<line x1="305.6" y1="296.3" x2="305.6" y2="373.0" stroke="#231f20" stroke-width="1.4"/>
<line x1="302.6" y1="372.3" x2="379.2" y2="372.3" stroke="#231f20" stroke-width="1.4"/>
<line x1="302.6" y1="372.3" x2="305.6" y2="372.3" stroke="#231f20" stroke-width="1.1"/>
<text x="299.3" y="375.1" font-size="8.6" text-anchor="end" fill="#1c1c1c" font-weight="normal" textLength="4.5" lengthAdjust="spacingAndGlyphs" stroke="#1c1c1c" stroke-width="0.15">0</text>
<line x1="302.6" y1="347.90000000000003" x2="305.6" y2="347.90000000000003" stroke="#231f20" stroke-width="1.1"/>
<text x="299.3" y="350.70000000000005" font-size="8.6" text-anchor="end" fill="#1c1c1c" font-weight="normal" textLength="9.0" lengthAdjust="spacingAndGlyphs" stroke="#1c1c1c" stroke-width="0.15">10</text>
<line x1="302.6" y1="323.5" x2="305.6" y2="323.5" stroke="#231f20" stroke-width="1.1"/>
<text x="299.3" y="326.3" font-size="8.6" text-anchor="end" fill="#1c1c1c" font-weight="normal" textLength="9.0" lengthAdjust="spacingAndGlyphs" stroke="#1c1c1c" stroke-width="0.15">20</text>
<line x1="302.6" y1="299.1" x2="305.6" y2="299.1" stroke="#231f20" stroke-width="1.1"/>
<text x="299.3" y="301.90000000000003" font-size="8.6" text-anchor="end" fill="#1c1c1c" font-weight="normal" textLength="9.0" lengthAdjust="spacingAndGlyphs" stroke="#1c1c1c" stroke-width="0.15">30</text>
<rect x="311.5" y="324.5" width="10.4" height="47.10000000000002" fill="#dcdce1"/>
<line x1="316.7" y1="317.1" x2="316.7" y2="326.5" stroke="#c8c8ca" stroke-width="1"/>
<line x1="313.7" y1="317.1" x2="319.7" y2="317.1" stroke="#c8c8ca" stroke-width="1"/>
<rect x="328.0" y="334.6" width="10.4" height="37.0" fill="#90a0ca"/>
<line x1="333.2" y1="329.2" x2="333.2" y2="336.6" stroke="#23599b" stroke-width="1"/>
<line x1="330.2" y1="329.2" x2="336.2" y2="329.2" stroke="#23599b" stroke-width="1"/>
<rect x="345.6" y="334.6" width="10.4" height="37.0" fill="#f8ce94"/>
<line x1="350.8" y1="327.9" x2="350.8" y2="336.6" stroke="#eea22e" stroke-width="1"/>
<line x1="347.8" y1="327.9" x2="353.8" y2="327.9" stroke="#eea22e" stroke-width="1"/>
<rect x="362.5" y="335.2" width="10.4" height="36.400000000000034" fill="#e9948e"/>
<line x1="367.7" y1="328.7" x2="367.7" y2="337.2" stroke="#c8163c" stroke-width="1"/>
<line x1="364.7" y1="328.7" x2="370.7" y2="328.7" stroke="#c8163c" stroke-width="1"/>
<line x1="316.7" y1="372.3" x2="316.7" y2="375.5" stroke="#231f20" stroke-width="1.1"/>
<line x1="333.2" y1="372.3" x2="333.2" y2="375.5" stroke="#231f20" stroke-width="1.1"/>
<line x1="350.8" y1="372.3" x2="350.8" y2="375.5" stroke="#231f20" stroke-width="1.1"/>
<line x1="367.7" y1="372.3" x2="367.7" y2="375.5" stroke="#231f20" stroke-width="1.1"/>
<circle cx="313.1" cy="313.8" r="2.3" stroke="#c4c4c6" fill="none" stroke-width="1.1"/>
<circle cx="316.5" cy="318" r="2.3" stroke="#c4c4c6" fill="none" stroke-width="1.1"/>
<circle cx="312.8" cy="320" r="2.3" stroke="#c4c4c6" fill="none" stroke-width="1.1"/>
<circle cx="319.5" cy="321" r="2.3" stroke="#c4c4c6" fill="none" stroke-width="1.1"/>
<circle cx="316.5" cy="328" r="2.3" stroke="#c4c4c6" fill="none" stroke-width="1.1"/>
<circle cx="316.5" cy="336.5" r="2.3" stroke="#c4c4c6" fill="none" stroke-width="1.1"/>
<rect x="327.5" y="318.90000000000003" width="4.4" height="4.4" stroke="#23599b" fill="none" stroke-width="1.1"/>
<rect x="334.40000000000003" y="318.2" width="4.4" height="4.4" stroke="#23599b" fill="none" stroke-width="1.1"/>
<rect x="331.0" y="327.7" width="4.4" height="4.4" stroke="#23599b" fill="none" stroke-width="1.1"/>
<rect x="327.8" y="333.6" width="4.4" height="4.4" stroke="#23599b" fill="none" stroke-width="1.1"/>
<rect x="334.40000000000003" y="333.6" width="4.4" height="4.4" stroke="#23599b" fill="none" stroke-width="1.1"/>
<rect x="331.0" y="346.1" width="4.4" height="4.4" stroke="#23599b" fill="none" stroke-width="1.1"/>
<polygon points="348.1,318.16 352.9,318.16 350.5,313.84" stroke="#eea22e" fill="none" stroke-width="1.1" stroke-linejoin="miter"/>
<polygon points="348.1,324.76000000000005 352.9,324.76000000000005 350.5,320.44" stroke="#eea22e" fill="none" stroke-width="1.1" stroke-linejoin="miter"/>
<polygon points="348.1,331.36 352.9,331.36 350.5,327.03999999999996" stroke="#eea22e" fill="none" stroke-width="1.1" stroke-linejoin="miter"/>
<polygon points="348.1,337.16 352.9,337.16 350.5,332.84" stroke="#eea22e" fill="none" stroke-width="1.1" stroke-linejoin="miter"/>
<polygon points="348.1,343.06 352.9,343.06 350.5,338.73999999999995" stroke="#eea22e" fill="none" stroke-width="1.1" stroke-linejoin="miter"/>
<polygon points="348.1,351.16 352.9,351.16 350.5,346.84" stroke="#eea22e" fill="none" stroke-width="1.1" stroke-linejoin="miter"/>
<polygon points="361.0,318.23999999999995 365.79999999999995,318.23999999999995 363.4,322.56" stroke="#c8163c" fill="none" stroke-width="1.1" stroke-linejoin="miter"/>
<polygon points="368.40000000000003,317.23999999999995 373.2,317.23999999999995 370.8,321.56" stroke="#c8163c" fill="none" stroke-width="1.1" stroke-linejoin="miter"/>
<polygon points="361.0,326.34 365.79999999999995,326.34 363.4,330.66" stroke="#c8163c" fill="none" stroke-width="1.1" stroke-linejoin="miter"/>
<polygon points="368.40000000000003,325.53999999999996 373.2,325.53999999999996 370.8,329.86" stroke="#c8163c" fill="none" stroke-width="1.1" stroke-linejoin="miter"/>
<polygon points="360.6,352.73999999999995 365.4,352.73999999999995 363,357.06" stroke="#c8163c" fill="none" stroke-width="1.1" stroke-linejoin="miter"/>
<polygon points="368.40000000000003,349.03999999999996 373.2,349.03999999999996 370.8,353.36" stroke="#c8163c" fill="none" stroke-width="1.1" stroke-linejoin="miter"/>
<text x="273.6" y="334.1" font-size="9.3" text-anchor="middle" fill="#1c1c1c" font-weight="normal" textLength="63" lengthAdjust="spacingAndGlyphs" transform="rotate(-90 273.6 334.1)" stroke="#1c1c1c" stroke-width="0.25">% MIP-1β positive</text>
<text x="284.2" y="334.1" font-size="9.3" text-anchor="middle" fill="#1c1c1c" font-weight="normal" textLength="42.2" lengthAdjust="spacingAndGlyphs" transform="rotate(-90 284.2 334.1)" stroke="#1c1c1c" stroke-width="0.25">CD3<tspan font-size="6" dy="-3.4">+</tspan><tspan dy="3.4"> T cells</tspan></text>
<text x="317.8" y="296.8" font-size="7.8" text-anchor="start" fill="#2a2a2a" font-weight="normal" textLength="12.2" lengthAdjust="spacingAndGlyphs" stroke="#2a2a2a" stroke-width="0.12">n.s.</text>
<line x1="316.7" y1="299.2" x2="367.2" y2="299.2" stroke="#4a4a4a" stroke-width="1.0"/>
<line x1="316.7" y1="301.3" x2="350.3" y2="301.3" stroke="#4a4a4a" stroke-width="1.0"/>
<line x1="316.7" y1="303.2" x2="333.1" y2="303.2" stroke="#4a4a4a" stroke-width="1.0"/>
<line x1="431.3" y1="296.3" x2="431.3" y2="372.9" stroke="#231f20" stroke-width="1.4"/>
<line x1="428.3" y1="372.2" x2="505.0" y2="372.2" stroke="#231f20" stroke-width="1.4"/>
<line x1="428.3" y1="372.2" x2="431.3" y2="372.2" stroke="#231f20" stroke-width="1.1"/>
<text x="425.0" y="375.0" font-size="8.6" text-anchor="end" fill="#1c1c1c" font-weight="normal" textLength="9.0" lengthAdjust="spacingAndGlyphs" stroke="#1c1c1c" stroke-width="0.15">15</text>
<line x1="428.3" y1="347.8" x2="431.3" y2="347.8" stroke="#231f20" stroke-width="1.1"/>
<text x="425.0" y="350.6" font-size="8.6" text-anchor="end" fill="#1c1c1c" font-weight="normal" textLength="9.0" lengthAdjust="spacingAndGlyphs" stroke="#1c1c1c" stroke-width="0.15">20</text>
<line x1="428.3" y1="323.4" x2="431.3" y2="323.4" stroke="#231f20" stroke-width="1.1"/>
<text x="425.0" y="326.2" font-size="8.6" text-anchor="end" fill="#1c1c1c" font-weight="normal" textLength="9.0" lengthAdjust="spacingAndGlyphs" stroke="#1c1c1c" stroke-width="0.15">25</text>
<line x1="428.3" y1="299.0" x2="431.3" y2="299.0" stroke="#231f20" stroke-width="1.1"/>
<text x="425.0" y="301.8" font-size="8.6" text-anchor="end" fill="#1c1c1c" font-weight="normal" textLength="9.0" lengthAdjust="spacingAndGlyphs" stroke="#1c1c1c" stroke-width="0.15">30</text>
<rect x="437.5" y="349.4" width="10.4" height="22.100000000000023" fill="#dcdce1"/>
<line x1="442.7" y1="346.7" x2="442.7" y2="351.4" stroke="#c8c8ca" stroke-width="1"/>
<line x1="439.7" y1="346.7" x2="445.7" y2="346.7" stroke="#c8c8ca" stroke-width="1"/>
<rect x="454.6" y="336.8" width="10.4" height="34.69999999999999" fill="#90a0ca"/>
<line x1="459.8" y1="328" x2="459.8" y2="338.8" stroke="#23599b" stroke-width="1"/>
<line x1="456.8" y1="328" x2="462.8" y2="328" stroke="#23599b" stroke-width="1"/>
<rect x="471.5" y="341.4" width="10.4" height="30.100000000000023" fill="#f8ce94"/>
<line x1="476.7" y1="333" x2="476.7" y2="343.4" stroke="#eea22e" stroke-width="1"/>
<line x1="473.7" y1="333" x2="479.7" y2="333" stroke="#eea22e" stroke-width="1"/>
<rect x="488.3" y="337.9" width="10.4" height="33.60000000000002" fill="#e9948e"/>
<line x1="493.5" y1="330" x2="493.5" y2="339.9" stroke="#c8163c" stroke-width="1"/>
<line x1="490.5" y1="330" x2="496.5" y2="330" stroke="#c8163c" stroke-width="1"/>
<line x1="442.7" y1="372.2" x2="442.7" y2="375.4" stroke="#231f20" stroke-width="1.1"/>
<line x1="459.8" y1="372.2" x2="459.8" y2="375.4" stroke="#231f20" stroke-width="1.1"/>
<line x1="476.7" y1="372.2" x2="476.7" y2="375.4" stroke="#231f20" stroke-width="1.1"/>
<line x1="493.5" y1="372.2" x2="493.5" y2="375.4" stroke="#231f20" stroke-width="1.1"/>
<circle cx="439.1" cy="336.5" r="2.3" stroke="#c4c4c6" fill="none" stroke-width="1.1"/>
<circle cx="446.5" cy="339.9" r="2.3" stroke="#c4c4c6" fill="none" stroke-width="1.1"/>
<circle cx="443" cy="346.8" r="2.3" stroke="#c4c4c6" fill="none" stroke-width="1.1"/>
<circle cx="439.5" cy="353" r="2.3" stroke="#c4c4c6" fill="none" stroke-width="1.1"/>
<circle cx="446.5" cy="353" r="2.3" stroke="#c4c4c6" fill="none" stroke-width="1.1"/>
<circle cx="443" cy="358" r="2.3" stroke="#c4c4c6" fill="none" stroke-width="1.1"/>
<rect x="458.2" y="310.1" width="4.4" height="4.4" stroke="#23599b" fill="none" stroke-width="1.1"/>
<rect x="458.2" y="314.5" width="4.4" height="4.4" stroke="#23599b" fill="none" stroke-width="1.1"/>
<rect x="458.2" y="323.3" width="4.4" height="4.4" stroke="#23599b" fill="none" stroke-width="1.1"/>
<rect x="453.8" y="348.3" width="4.4" height="4.4" stroke="#23599b" fill="none" stroke-width="1.1"/>
<rect x="453.8" y="353.40000000000003" width="4.4" height="4.4" stroke="#23599b" fill="none" stroke-width="1.1"/>
<rect x="461.1" y="351.90000000000003" width="4.4" height="4.4" stroke="#23599b" fill="none" stroke-width="1.1"/>
<polygon points="473.6,327.66 478.4,327.66 476,323.34" stroke="#eea22e" fill="none" stroke-width="1.1" stroke-linejoin="miter"/>
<polygon points="472.6,335.66 477.4,335.66 475,331.34" stroke="#eea22e" fill="none" stroke-width="1.1" stroke-linejoin="miter"/>
<polygon points="478.6,338.66 483.4,338.66 481,334.34" stroke="#eea22e" fill="none" stroke-width="1.1" stroke-linejoin="miter"/>
<polygon points="474.6,344.16 479.4,344.16 477,339.84" stroke="#eea22e" fill="none" stroke-width="1.1" stroke-linejoin="miter"/>
<polygon points="470.6,356.16 475.4,356.16 473,351.84" stroke="#eea22e" fill="none" stroke-width="1.1" stroke-linejoin="miter"/>
<polygon points="478.6,356.16 483.4,356.16 481,351.84" stroke="#eea22e" fill="none" stroke-width="1.1" stroke-linejoin="miter"/>
<polygon points="491.0,313.14 495.79999999999995,313.14 493.4,317.46000000000004" stroke="#c8163c" fill="none" stroke-width="1.1" stroke-linejoin="miter"/>
<polygon points="491.0,317.53999999999996 495.79999999999995,317.53999999999996 493.4,321.86" stroke="#c8163c" fill="none" stroke-width="1.1" stroke-linejoin="miter"/>
<polygon points="491.0,328.53999999999996 495.79999999999995,328.53999999999996 493.4,332.86" stroke="#c8163c" fill="none" stroke-width="1.1" stroke-linejoin="miter"/>
<polygon points="491.0,343.14 495.79999999999995,343.14 493.4,347.46000000000004" stroke="#c8163c" fill="none" stroke-width="1.1" stroke-linejoin="miter"/>
<polygon points="491.0,347.53999999999996 495.79999999999995,347.53999999999996 493.4,351.86" stroke="#c8163c" fill="none" stroke-width="1.1" stroke-linejoin="miter"/>
<polygon points="491.0,353.44 495.79999999999995,353.44 493.4,357.76000000000005" stroke="#c8163c" fill="none" stroke-width="1.1" stroke-linejoin="miter"/>
<text x="400.8" y="335.2" font-size="9.3" text-anchor="middle" fill="#1c1c1c" font-weight="normal" textLength="57.2" lengthAdjust="spacingAndGlyphs" transform="rotate(-90 400.8 335.2)" stroke="#1c1c1c" stroke-width="0.25">% IFN-γ positive</text>
<text x="411.1" y="334.4" font-size="9.3" text-anchor="middle" fill="#1c1c1c" font-weight="normal" textLength="42.2" lengthAdjust="spacingAndGlyphs" transform="rotate(-90 411.1 334.4)" stroke="#1c1c1c" stroke-width="0.25">CD3<tspan font-size="6" dy="-3.4">+</tspan><tspan dy="3.4"> T cells</tspan></text>
<text x="444.5" y="296.6" font-size="7.8" text-anchor="start" fill="#2a2a2a" font-weight="normal" textLength="12.2" lengthAdjust="spacingAndGlyphs" stroke="#2a2a2a" stroke-width="0.12">n.s.</text>
<line x1="442.7" y1="299.0" x2="493.6" y2="299.0" stroke="#4a4a4a" stroke-width="1.0"/>
<line x1="442.7" y1="300.9" x2="476.6" y2="300.9" stroke="#4a4a4a" stroke-width="1.0"/>
<line x1="442.7" y1="303.0" x2="460.2" y2="303.0" stroke="#4a4a4a" stroke-width="1.0"/>
<line x1="459.8" y1="337" x2="459.8" y2="343.4" stroke="#23599b" stroke-width="1"/>
<line x1="456.8" y1="343.4" x2="462.8" y2="343.4" stroke="#23599b" stroke-width="1"/>
<circle cx="76.2" cy="393.6" r="2.0" stroke="#c4c4c6" fill="none" stroke-width="1.0"/>
<text x="84.8" y="397.9" font-size="8.6" text-anchor="start" fill="#1e1e1e" font-weight="normal" textLength="76.7" lengthAdjust="spacingAndGlyphs">IgG control antibody</text>
<rect x="174.2" y="391.6" width="4.0" height="4.0" stroke="#23599b" fill="none" stroke-width="1.1"/>
<text x="185.0" y="397.9" font-size="8.6" text-anchor="start" fill="#1e1e1e" font-weight="normal" textLength="80.9" lengthAdjust="spacingAndGlyphs">10 µg/mL tafasitamab</text>
<polygon points="278.0,395.38 282.4,395.38 280.2,391.41999999999996" stroke="#eea22e" fill="none" stroke-width="1.0" stroke-linejoin="miter"/>
<text x="289.4" y="397.9" font-size="8.6" text-anchor="start" fill="#1e1e1e" font-weight="normal" textLength="84.3" lengthAdjust="spacingAndGlyphs">100 µg/mL tafasitamab</text>
<polygon points="387.6,391.82 392.0,391.82 389.8,395.78000000000003" stroke="#c8163c" fill="none" stroke-width="1.1" stroke-linejoin="miter"/>
<text x="397.2" y="397.9" font-size="8.6" text-anchor="start" fill="#1e1e1e" font-weight="normal" textLength="86.9" lengthAdjust="spacingAndGlyphs">400 µg/mL tafasitamab</text>
</svg></div>
</body></html>
